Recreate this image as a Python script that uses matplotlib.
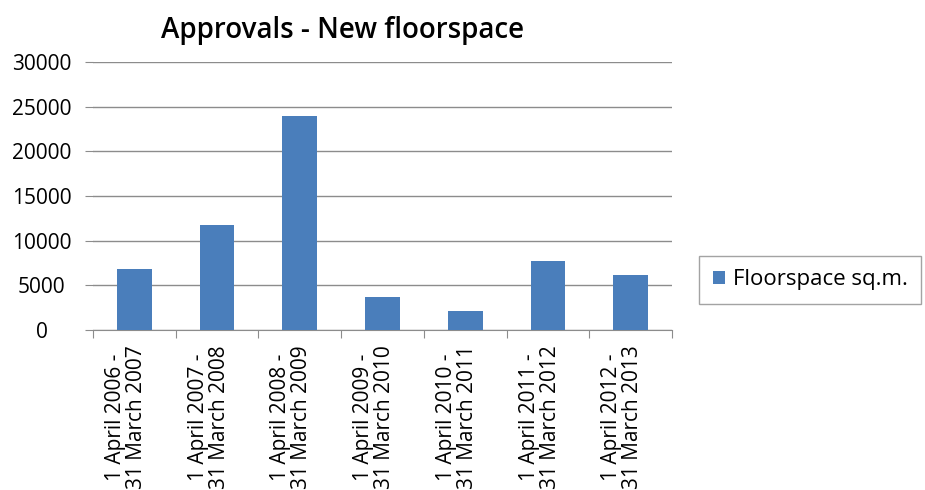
import matplotlib.pyplot as plt
import numpy as np

plt.rcParams['font.family'] = ['Open Sans', 'DejaVu Sans']

periods = ['1 April 2006 -\n31 March 2007', '1 April 2007 -\n31 March 2008',
           '1 April 2008 -\n31 March 2009', '1 April 2009 -\n31 March 2010',
           '1 April 2010 -\n31 March 2011', '1 April 2011 -\n31 March 2012',
           '1 April 2012 -\n31 March 2013']
floorspace = [6800, 11800, 23900, 3700, 2150, 7750, 6200]

fig = plt.figure(figsize=(9.25, 4.9), dpi=100)
ax = fig.add_axes([0.1005, 0.3265, 0.626, 0.547])

x = np.arange(len(periods))
ax.bar(x, floorspace, width=0.42, color='#4A7EBB', label='Floorspace sq.m.', zorder=3)

ax.set_xlim(-0.5, len(periods) - 0.5)
ax.set_ylim(0, 30000)
ax.set_yticks(range(0, 30001, 5000))
ax.yaxis.grid(True, color='#8c8c8c', linewidth=1.0, zorder=0)

# category ticks sit on the boundaries, labels in the middle
ax.set_xticks(np.arange(-0.5, len(periods)), minor=False)
ax.set_xticklabels([])
ax.set_xticks(x - 0.1, minor=True)
ax.set_xticklabels(periods, minor=True, rotation=90, fontsize=15,
                   ha='center', va='top', linespacing=1.0)
ax.tick_params(axis='x', which='minor', length=0, pad=11)
ax.tick_params(axis='x', which='major', length=6, color='#8c8c8c')
ax.tick_params(axis='y', length=6, color='#8c8c8c', labelsize=15, pad=31)
for lab in ax.get_yticklabels():
    lab.set_horizontalalignment('center')

for s in ['top', 'right', 'left']:
    ax.spines[s].set_visible(False)
ax.spines['bottom'].set_color('#8c8c8c')

fig.text(0.370, 0.937, 'Approvals - New floorspace', ha='center', va='center',
         fontsize=20, fontweight='semibold')

fig.legend(loc='center left', bbox_to_anchor=(0.756, 0.429), fontsize=16,
           frameon=True, fancybox=False, edgecolor='#8c8c8c',
           handlelength=0.55, handleheight=0.55, handletextpad=0.35,
           borderpad=0.6, borderaxespad=0)

fig.savefig('out.png', dpi=100)
